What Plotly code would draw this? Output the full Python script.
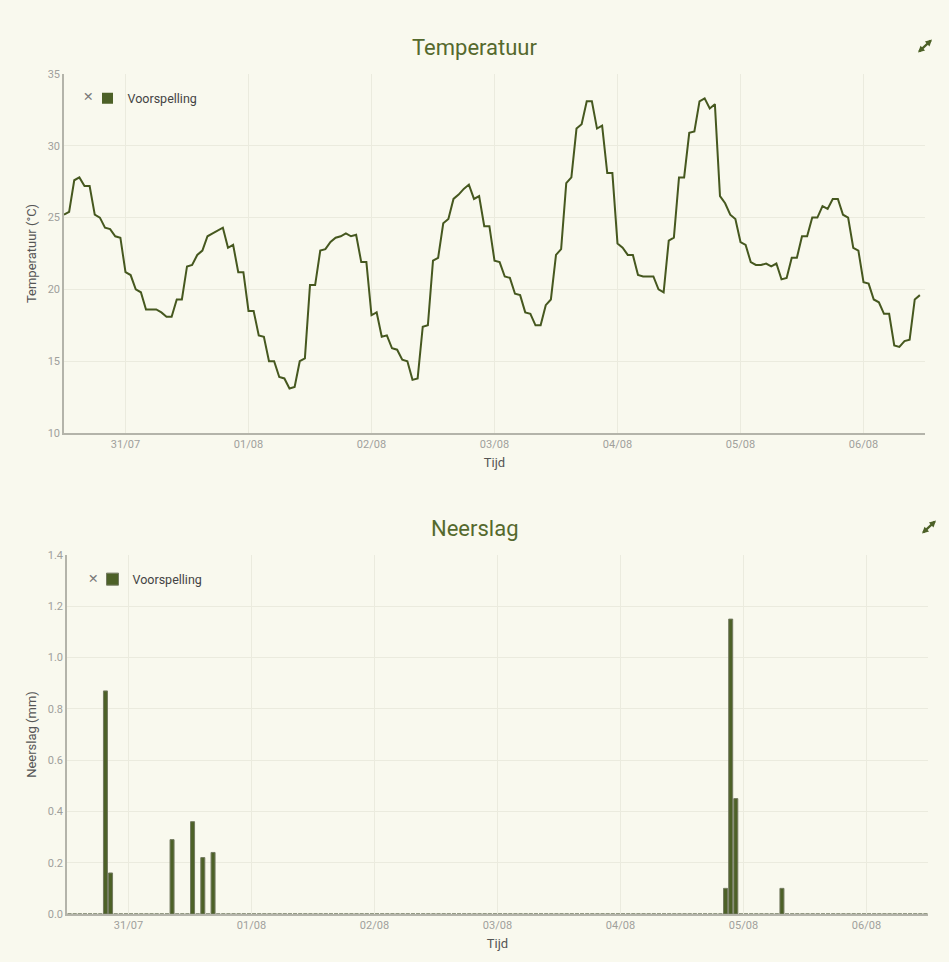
import pandas as pd
import plotly.graph_objects as go

# hourly forecast, 30/07 12:00 .. 06/08 11:00
TEMP_START = "2024-07-30 12:00"
TEMPERATUUR = [
    25.2, 25.4, 27.6, 27.8, 27.2, 27.2, 25.2, 25.0, 24.3, 24.2, 23.7, 23.6,
    21.2, 21.0, 20.0, 19.8, 18.6, 18.6, 18.6, 18.4, 18.1, 18.1, 19.3, 19.3,
    21.6, 21.7, 22.4, 22.7, 23.7, 23.9, 24.1, 24.3, 22.9, 23.1, 21.2, 21.2,
    18.5, 18.5, 16.8, 16.7, 15.0, 15.0, 13.9, 13.8, 13.1, 13.2, 15.0, 15.2,
    20.3, 20.3, 22.7, 22.8, 23.3, 23.6, 23.7, 23.9, 23.7, 23.8, 21.9, 21.9,
    18.2, 18.4, 16.7, 16.8, 15.9, 15.8, 15.1, 15.0, 13.7, 13.8, 17.4, 17.5,
    22.0, 22.2, 24.6, 24.9, 26.3, 26.6, 27.0, 27.3, 26.3, 26.5, 24.4, 24.4,
    22.0, 21.9, 20.9, 20.8, 19.7, 19.6, 18.4, 18.3, 17.5, 17.5, 18.9, 19.3,
    22.4, 22.8, 27.4, 27.8, 31.2, 31.5, 33.1, 33.1, 31.2, 31.4, 28.1, 28.1,
    23.2, 22.9, 22.4, 22.4, 21.0, 20.9, 20.9, 20.9, 20.0, 19.8, 23.4, 23.6,
    27.8, 27.8, 30.9, 31.0, 33.1, 33.3, 32.6, 32.9, 26.5, 26.0, 25.2, 24.9,
    23.3, 23.1, 21.9, 21.7, 21.7, 21.8, 21.6, 21.8, 20.7, 20.8, 22.2, 22.2,
    23.7, 23.7, 25.0, 25.0, 25.8, 25.6, 26.3, 26.3, 25.2, 25.0, 22.9, 22.7,
    20.5, 20.4, 19.3, 19.1, 18.3, 18.3, 16.1, 16.0, 16.4, 16.5, 19.3, 19.6,
]

# hourly precipitation, bars centred on the half hour
RAIN_START = "2024-07-30 12:30"
NEERSLAG = [
    0, 0, 0, 0, 0, 0, 0, 0.87, 0.16, 0, 0, 0, 0, 0, 0, 0, 0, 0, 0, 0, 0.29, 0, 0, 0,
    0.36, 0, 0.22, 0, 0.24, 0, 0, 0, 0, 0, 0, 0, 0, 0, 0, 0, 0, 0, 0, 0, 0, 0, 0, 0,
    0, 0, 0, 0, 0, 0, 0, 0, 0, 0, 0, 0, 0, 0, 0, 0, 0, 0, 0, 0, 0, 0, 0, 0,
    0, 0, 0, 0, 0, 0, 0, 0, 0, 0, 0, 0, 0, 0, 0, 0, 0, 0, 0, 0, 0, 0, 0, 0,
    0, 0, 0, 0, 0, 0, 0, 0, 0, 0, 0, 0, 0, 0, 0, 0, 0, 0, 0, 0, 0, 0, 0, 0,
    0, 0, 0, 0, 0, 0, 0, 0, 0.10, 1.15, 0.45, 0, 0, 0, 0, 0, 0, 0, 0, 0.10, 0, 0, 0, 0,
    0, 0, 0, 0, 0, 0, 0, 0, 0, 0, 0, 0, 0, 0, 0, 0, 0, 0, 0, 0, 0, 0, 0, 0,
]

X_RANGE = ["2024-07-30 12:00", "2024-08-06 12:00"]

BG = "#f9f9ee"
GREEN = "#4d6127"
TITLE_GREEN = "#55692d"
GRID = "#ebebde"
AXIS = "#b4b4aa"
TICK = "#a0a09c"
LABEL = "#555555"
FONT = "Roboto"

W, H = 949, 962


def fx(p):
    return p / W


def fy(p):
    return 1 - p / H


temp_times = pd.date_range(TEMP_START, periods=len(TEMPERATUUR), freq="h")
rain_times = pd.date_range(RAIN_START, periods=len(NEERSLAG), freq="h")

fig = go.Figure()

fig.add_trace(
    go.Scatter(
        x=temp_times,
        y=TEMPERATUUR,
        mode="lines",
        line={"color": "#46581f", "width": 2},
        name="Voorspelling",
        showlegend=False,
        xaxis="x",
        yaxis="y",
    )
)
# legend entry with the square swatch used by the original
fig.add_trace(
    go.Scatter(
        x=[None],
        y=[None],
        mode="markers",
        marker={"symbol": "square", "size": 11, "color": GREEN},
        name="Voorspelling",
        legend="legend",
        xaxis="x",
        yaxis="y",
    )
)
fig.add_trace(
    go.Bar(
        x=rain_times,
        y=NEERSLAG,
        name="Voorspelling",
        marker={"color": GREEN, "line": {"color": "#737a60", "width": 1}},
        legend="legend2",
        xaxis="x2",
        yaxis="y2",
    )
)

x_common = {
    "type": "date",
    "range": X_RANGE,
    "tickformat": "%d/%m",
    "tick0": "2024-07-31",
    "dtick": 86400000,
    "showgrid": True,
    "gridcolor": GRID,
    "showline": True,
    "linecolor": AXIS,
    "linewidth": 1.5,
    "ticks": "",
    "tickfont": {"size": 11, "color": TICK},
    "zeroline": False,
    "automargin": False,
}
y_common = {
    "showgrid": True,
    "gridcolor": GRID,
    "showline": True,
    "linecolor": AXIS,
    "linewidth": 1.5,
    "ticks": "",
    "tickfont": {"size": 11, "color": TICK},
    "zeroline": False,
    "automargin": False,
}

fig.update_layout(
    width=W,
    height=H,
    margin={"l": 0, "r": 0, "t": 0, "b": 0, "autoexpand": False},
    paper_bgcolor=BG,
    plot_bgcolor=BG,
    font={"family": FONT, "color": LABEL},
    bargap=0.22,
    xaxis={**x_common, "domain": [fx(64), fx(925)], "anchor": "y",
           "title": {"text": "Tijd", "font": {"size": 13, "color": LABEL}, "standoff": 8}},
    yaxis={**y_common, "domain": [fy(433), fy(74)], "anchor": "x", "range": [10, 35], "dtick": 5,
           "title": {"text": "Temperatuur (°C)", "font": {"size": 13, "color": LABEL}, "standoff": 8}},
    xaxis2={**x_common, "domain": [fx(67), fx(928)], "anchor": "y2",
            "title": {"text": "Tijd", "font": {"size": 13, "color": LABEL}, "standoff": 8}},
    yaxis2={**y_common, "domain": [fy(914), fy(555)], "anchor": "x2", "range": [0, 1.4], "dtick": 0.2,
            "tickformat": ".1f",
            "title": {"text": "Neerslag (mm)", "font": {"size": 13, "color": LABEL}, "standoff": 8}},
    legend={"x": fx(87.5), "y": fy(98.5), "xanchor": "left", "yanchor": "middle",
            "bgcolor": "rgba(0,0,0,0)", "font": {"size": 12.5, "color": "#444444"}},
    legend2={"x": fx(92.5), "y": fy(579.5), "xanchor": "left", "yanchor": "middle",
             "bgcolor": "rgba(0,0,0,0)", "font": {"size": 12.5, "color": "#444444"}},
)

# chart titles
for text, ypx in [("Temperatuur", 47), ("Neerslag", 528)]:
    fig.add_annotation(
        text=text, xref="paper", yref="paper", x=0.5, y=fy(ypx),
        xanchor="center", yanchor="middle", showarrow=False,
        font={"size": 22, "color": TITLE_GREEN},
    )

# the small close crosses in front of the legends
for xpx, ypx in [(88, 97), (93, 578)]:
    fig.add_annotation(
        text="✕", xref="paper", yref="paper", x=fx(xpx), y=fy(ypx),
        xanchor="center", yanchor="middle", showarrow=False,
        font={"family": "DejaVu Sans", "size": 12.5, "color": "#7a7a7a"},
    )

# expand icons (double-headed diagonal arrows)
for xpx, ypx in [(932, 39.5), (936, 520.5)]:
    fig.add_annotation(
        text="", xref="paper", yref="paper", x=fx(xpx), y=fy(ypx),
        ax=-15.5, ay=14.5, showarrow=True, arrowside="end+start",
        arrowhead=2, arrowsize=0.6, arrowwidth=2.2, arrowcolor=GREEN,
        standoff=0, startstandoff=0,
    )

fig.write_html(
    "out.html",
    config={"displayModeBar": False},
    post_script="document.body.style.margin='0';document.body.style.overflow='hidden';"
                "document.body.style.background='" + BG + "';",
)
